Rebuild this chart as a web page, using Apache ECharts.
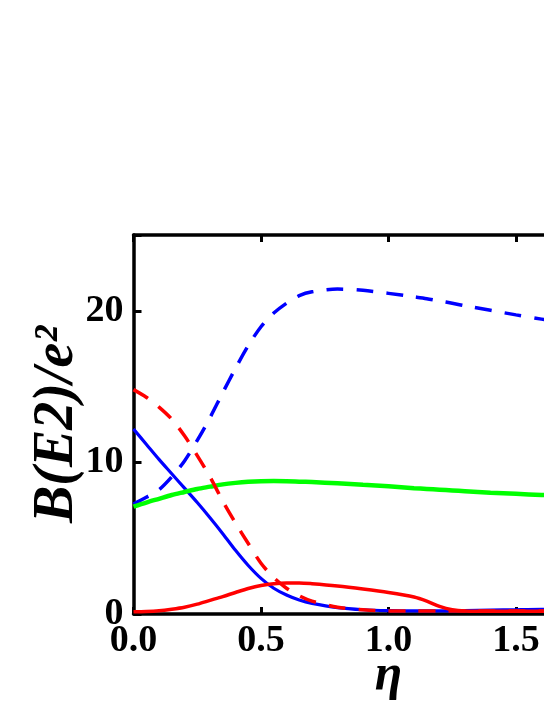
<!DOCTYPE html>
<html>
<head>
<meta charset="utf-8">
<script src="https://cdn.jsdelivr.net/npm/echarts@6/dist/echarts.min.js"></script>
<style>
  html, body { margin: 0; padding: 0; background: #fff; }
  #chart { width: 544px; height: 704px; }
</style>
</head>
<body>
<div id="chart"></div>
<script>
// eta grid shared by all curves
var eta = [0, 0.05, 0.1, 0.15, 0.2, 0.25, 0.3, 0.35, 0.4, 0.45, 0.5, 0.55, 0.6, 0.65, 0.7, 0.8, 0.9, 1.0, 1.1, 1.15, 1.2, 1.25, 1.3, 1.4, 1.5, 1.6, 1.8, 2.0]

// values
var blueDashed = [7.25, 7.7, 8.2, 9.05, 10.1, 11.45, 12.95, 14.6, 16.2, 17.7, 18.95, 19.85, 20.5, 21.0, 21.25, 21.43, 21.35, 21.15, 20.92, 20.8, 20.65, 20.5, 20.33, 20.03, 19.73, 19.45, 18.9, 18.4]
var blueSolid = [12.2, 11.2, 10.2, 9.25, 8.3, 7.35, 6.35, 5.3, 4.2, 3.2, 2.35, 1.7, 1.25, 0.92, 0.7, 0.42, 0.28, 0.22, 0.2, 0.2, 0.2, 0.21, 0.22, 0.25, 0.28, 0.3, 0.3, 0.3]
var redDashed = [14.8, 14.3, 13.65, 12.85, 11.75, 10.45, 9.05, 7.45, 6.0, 4.65, 3.35, 2.4, 1.7, 1.2, 0.85, 0.45, 0.28, 0.2, 0.2, 0.2, 0.2, 0.2, 0.2, 0.2, 0.2, 0.2, 0.2, 0.2]
var redSolid = [0.15, 0.17, 0.22, 0.32, 0.45, 0.65, 0.9, 1.15, 1.42, 1.68, 1.88, 2.0, 2.05, 2.05, 2.0, 1.85, 1.65, 1.42, 1.12, 0.85, 0.5, 0.28, 0.2, 0.18, 0.18, 0.18, 0.18, 0.18]
var green = [7.08, 7.35, 7.6, 7.85, 8.05, 8.25, 8.4, 8.55, 8.65, 8.72, 8.76, 8.77, 8.76, 8.73, 8.7, 8.62, 8.52, 8.42, 8.3, 8.25, 8.2, 8.15, 8.1, 8.0, 7.93, 7.85, 7.72, 7.6]

var xTicks = [0, 0.5, 1.0, 1.5, 2.0]
var yTicks = [0, 10, 20]

function pairs (ys) {
  return eta.map(function (x, i) { return [x, ys[i]] })
}

function line (ys, color, width, dashed) {
  return {
    type: 'line',
    data: pairs(ys),
    smooth: 0.3,
    symbol: 'none',
    lineStyle: {
      color: color,
      width: width,
      type: dashed ? [17, 13] : 'solid',
      cap: 'butt'
    }
  }
}

var font = 'Liberation Serif'
var axisLine = { show: true, onZero: false, lineStyle: { color: '#000', width: 3.5 } }

var chart = echarts.init(document.getElementById('chart'))
chart.setOption({
  animation: false,
  backgroundColor: '#fff',
  // plot runs past the right edge of the window, as in the reference
  grid: { left: 133.5, width: 510, top: 235, bottom: 90, outerBoundsMode: 'none', containLabel: false },
  xAxis: [
    {
      type: 'value',
      position: 'bottom',
      min: xTicks[0],
      max: xTicks[xTicks.length - 1],
      interval: 0.5,
      name: 'η',
      nameLocation: 'middle',
      nameGap: 37,
      nameMoveOverlap: false,
      nameTextStyle: { fontFamily: font, fontStyle: 'italic', fontWeight: 'bold', fontSize: 50, color: '#000' },
      axisLine: axisLine,
      axisTick: { inside: true, length: 7, lineStyle: { color: '#000', width: 3 } },
      axisLabel: {
        margin: 8,
        fontFamily: font, fontWeight: 'bold', fontSize: 38, color: '#000',
        formatter: function (v) { return v.toFixed(1) }
      },
      splitLine: { show: false }
    },
    {
      type: 'value',
      position: 'top',
      min: xTicks[0],
      max: xTicks[xTicks.length - 1],
      interval: 0.5,
      axisLine: axisLine,
      axisTick: { inside: true, length: 7, lineStyle: { color: '#000', width: 3 } },
      axisLabel: { show: false },
      splitLine: { show: false }
    }
  ],
  yAxis: [
    {
      type: 'value',
      position: 'left',
      min: yTicks[0],
      max: 25,
      interval: 10,
      name: 'B(E2)/e²',
      nameLocation: 'middle',
      nameRotate: 90,
      nameGap: 48,
      nameMoveOverlap: false,
      nameTextStyle: { fontFamily: font, fontStyle: 'italic', fontWeight: 'bold', fontSize: 56, color: '#000' },
      axisLine: axisLine,
      axisTick: { inside: true, length: 8, lineStyle: { color: '#000', width: 3 } },
      axisLabel: {
        margin: 10,
        fontFamily: font, fontWeight: 'bold', fontSize: 38, color: '#000',
        formatter: function (v) { return yTicks.indexOf(v) >= 0 ? String(v) : '' }
      },
      splitLine: { show: false }
    },
    {
      type: 'value',
      position: 'right',
      min: yTicks[0],
      max: 25,
      interval: 10,
      axisLine: axisLine,
      axisTick: { inside: true, length: 8, lineStyle: { color: '#000', width: 3 } },
      axisLabel: { show: false },
      splitLine: { show: false }
    }
  ],
  series: [
    line(blueSolid, '#0000ff', 3.2, false),
    line(blueDashed, '#0000ff', 3.5, true),
    line(green, '#00ff00', 4.5, false),
    line(redDashed, '#ff0000', 3.5, true),
    line(redSolid, '#ff0000', 3.5, false)
  ]
})
</script>
</body>
</html>
